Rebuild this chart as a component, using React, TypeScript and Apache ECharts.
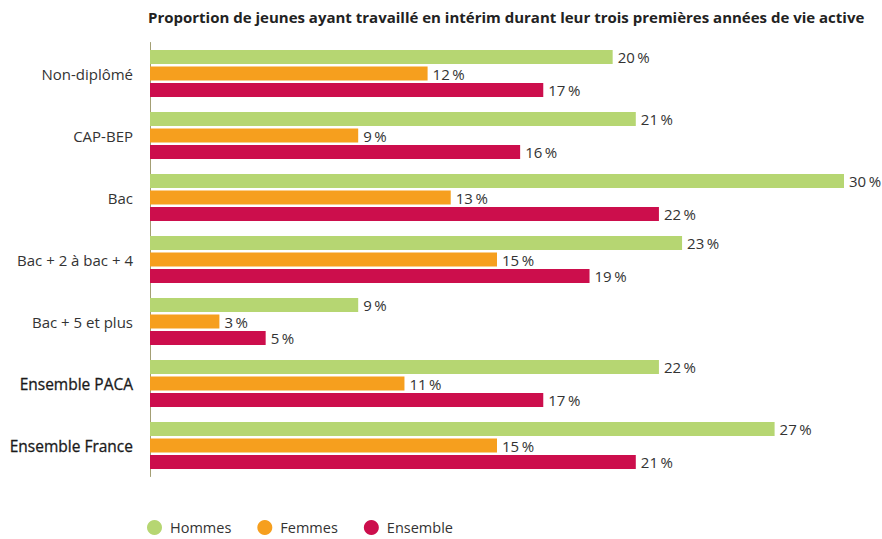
import React, { useEffect, useRef } from "react";
import * as echarts from "echarts";

const categories = [
  "Non-diplômé",
  "CAP-BEP",
  "Bac",
  "Bac + 2 à bac + 4",
  "Bac + 5 et plus",
  "Ensemble PACA",
  "Ensemble France",
];
const hommes = [20, 21, 30, 23, 9, 22, 27];
const femmes = [12, 9, 13, 15, 3, 11, 15];
const ensemble = [17, 16, 22, 19, 5, 17, 21];
const boldCategories = ["Ensemble PACA", "Ensemble France"];

const FONT = "'Open Sans', 'Noto Sans', sans-serif";

export default function App() {
  const ref = useRef<HTMLDivElement>(null);
  useEffect(() => {
    if (!ref.current) return;
    const chart = echarts.init(ref.current, null, { renderer: "svg" });
    const label = {
      show: true,
      position: "right" as const,
      distance: 5,
      color: "#333",
      fontSize: 15,
      fontFamily: FONT,
      formatter: (p: any) => `${p.value}\u2009%`,
    };
    const mk = (name: string, data: number[], color: string) => ({
      name,
      type: "bar",
      data,
      barWidth: 14,
      barGap: "18%",
      itemStyle: { color },
      label,
    });
    chart.setOption({
      animation: false,
      title: {
        text: "Proportion de jeunes ayant travaillé en intérim durant leur trois premières années de vie active",
        left: 143,
        top: 4,
        textStyle: { fontSize: 15, fontWeight: "bold", color: "#222", fontFamily: FONT },
      },
      legend: {
        left: 147,
        top: 520,
        padding: 0,
        icon: "circle",
        itemWidth: 15,
        itemHeight: 15,
        itemGap: 26,
        textStyle: { fontSize: 14.5, color: "#333", fontFamily: FONT, padding: [0, 0, 0, 3] },
        data: ["Hommes", "Femmes", "Ensemble"],
      },
      grid: { left: 150, right: 38, top: 42.5, bottom: 62.5 },
      xAxis: {
        type: "value",
        min: 0,
        max: 30,
        show: false,
      },
      yAxis: {
        type: "category",
        data: categories,
        inverse: true,
        axisLine: { show: true, lineStyle: { color: "#a39f74", width: 1 } },
        axisTick: { show: false },
        axisLabel: {
          margin: 17,
          fontSize: 15,
          color: "#333",
          fontFamily: FONT,
          formatter: (v: string) => (boldCategories.includes(v) ? `{b|${v}}` : v),
          rich: {
            b: {
              fontSize: 15.5,
              color: "#1a1a1a",
              fontFamily: FONT,
              textBorderColor: "#1a1a1a",
              textBorderWidth: 0.3,
            },
          },
        },
      },
      series: [
        mk("Hommes", hommes, "#b6d672"),
        mk("Femmes", femmes, "#f69f1e"),
        mk("Ensemble", ensemble, "#cc0e4c"),
      ],
    });
    return () => chart.dispose();
  }, []);
  return <div ref={ref} style={{ width: 882, height: 539, position: "absolute", left: 0, top: 0 }} />;
}
